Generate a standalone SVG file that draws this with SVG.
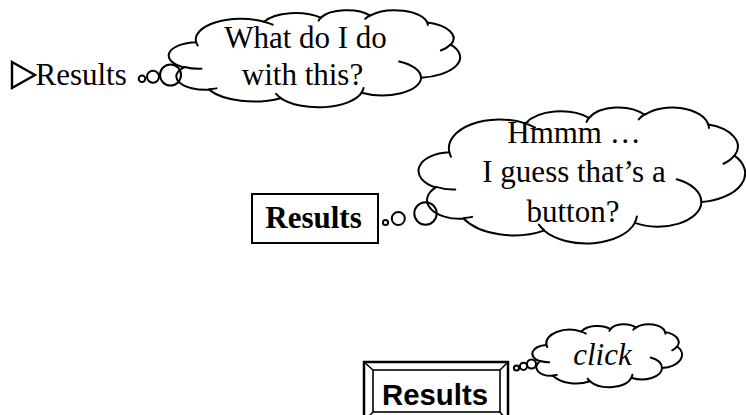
<svg xmlns="http://www.w3.org/2000/svg" xmlns:xlink="http://www.w3.org/1999/xlink" width="746" height="415" viewBox="0 0 746 415">
<style>
.cl{fill:#fff;stroke:#000;stroke-width:2;vector-effect:non-scaling-stroke;stroke-linejoin:round}
.ci{fill:none;stroke:#000;stroke-width:2;vector-effect:non-scaling-stroke;stroke-linecap:round}
.bub{fill:none;stroke:#000;stroke-width:2}
.t{font-family:"Liberation Serif","Times New Roman",serif;font-size:31px;fill:#000}
.c{text-anchor:middle}
.box{fill:#fff;stroke:#000;stroke-width:2}
</style>
<defs>
<g id="cloud">
<path class="cl" d="M9.03 33.26 A15.63 21.27 0 0 1 32.42 12.04 A12.35 16.82 0 0 1 51.98 7.94 A10.10 13.76 0 0 1 69.06 5.74 A11.24 15.27 0 0 1 88.70 12.91 A12.35 16.84 0 0 1 96.80 35.79 A15.68 21.34 0 0 1 86.58 69.92 A13.39 18.21 0 0 1 66.10 85.22 A15.63 21.33 0 0 1 38.15 90.89 A17.87 24.41 0 0 1 13.44 82.12 A10.09 13.70 0 0 1 4.89 59.15 A10.06 13.76 0 0 1 9.03 33.26 Z"/>
<path class="ci" d="M10.86 60.60 A10.06 13.76 0 0 1 5.00 58.75 M16.04 80.79 A10.09 13.70 0 0 1 13.47 81.67 M38.14 90.49 A15.63 21.33 0 0 1 36.60 86.46 M66.73 80.44 A15.63 21.33 0 0 1 66.11 84.86 M79.00 53.13 A13.39 18.21 0 0 1 86.53 69.65 M96.76 35.54 A12.35 16.84 0 0 1 93.40 41.74 M88.71 12.56 A11.24 15.27 0 0 1 88.89 15.49 M67.31 9.15 A11.24 15.27 0 0 1 69.03 5.41 M51.25 10.93 A10.10 13.76 0 0 1 52.08 7.71 M32.41 12.02 A15.63 21.27 0 0 1 35.41 15.14 M9.55 36.55 A15.63 21.27 0 0 1 9.03 33.27"/>
</g>
</defs>

<g id="item1">
<polygon points="12,62 35,75 12,88" fill="none" stroke="#000" stroke-width="2.4" stroke-linejoin="miter"/>
<text class="t" x="35.5" y="85">Results</text>
</g>

<g id="cloud1">
<use href="#cloud" xlink:href="#cloud" transform="translate(170,10) scale(2.9,0.97)"/>
<text class="t c" x="305.5" y="48">What do I do</text>
<text class="t c" x="302.5" y="85">with this?</text>
</g>

<g id="button2">
<rect class="box" x="252" y="194" width="126" height="49"/>
<text class="t c" x="313.5" y="228" font-weight="bold" font-size="32">Results</text>
</g>

<g id="cloud2">
<use href="#cloud" xlink:href="#cloud" transform="translate(420,107) scale(3.25,1.36)"/>
<text class="t c" x="574" y="143">Hmmm …</text>
<text class="t c" x="574" y="182">I guess that’s a</text>
<text class="t c" x="573" y="222">button?</text>
</g>

<g id="button3">
<rect x="364" y="362" width="144" height="60" fill="#fff" stroke="#000" stroke-width="2.5"/>
<rect x="373" y="370" width="127" height="42" fill="#fff" stroke="#000" stroke-width="1.6"/>
<path d="M364 362 L373 370 M508 362 L500 370 M364 422 L373 412 M508 422 L500 412" stroke="#000" stroke-width="1.6" fill="none"/>
<text x="435" y="405" text-anchor="middle" font-family="'Comic Sans MS','Liberation Sans',sans-serif" font-weight="bold" font-size="29" textLength="106" lengthAdjust="spacingAndGlyphs">Results</text>
</g>

<g id="cloud3">
<use href="#cloud" xlink:href="#cloud" transform="translate(533,324) scale(1.49,0.63)"/>
<text class="t c" x="602.5" y="365" font-style="italic">click</text>
</g>

<g id="connectors">
<circle class="bub" cx="142" cy="78.7" r="3.3"/>
<circle class="bub" cx="153" cy="76.7" r="6"/>
<circle class="bub" cx="170.5" cy="75" r="10.5"/>
<circle class="bub" cx="385.5" cy="222.5" r="2.6"/>
<circle class="bub" cx="398.3" cy="218.5" r="6.5"/>
<circle class="bub" cx="425.5" cy="213.5" r="11.2"/>
<circle class="bub" cx="516.5" cy="368" r="2.6"/>
<circle class="bub" cx="523.5" cy="366.3" r="3.6"/>
<circle class="bub" cx="531.5" cy="364" r="4.5"/>
</g>
</svg>
